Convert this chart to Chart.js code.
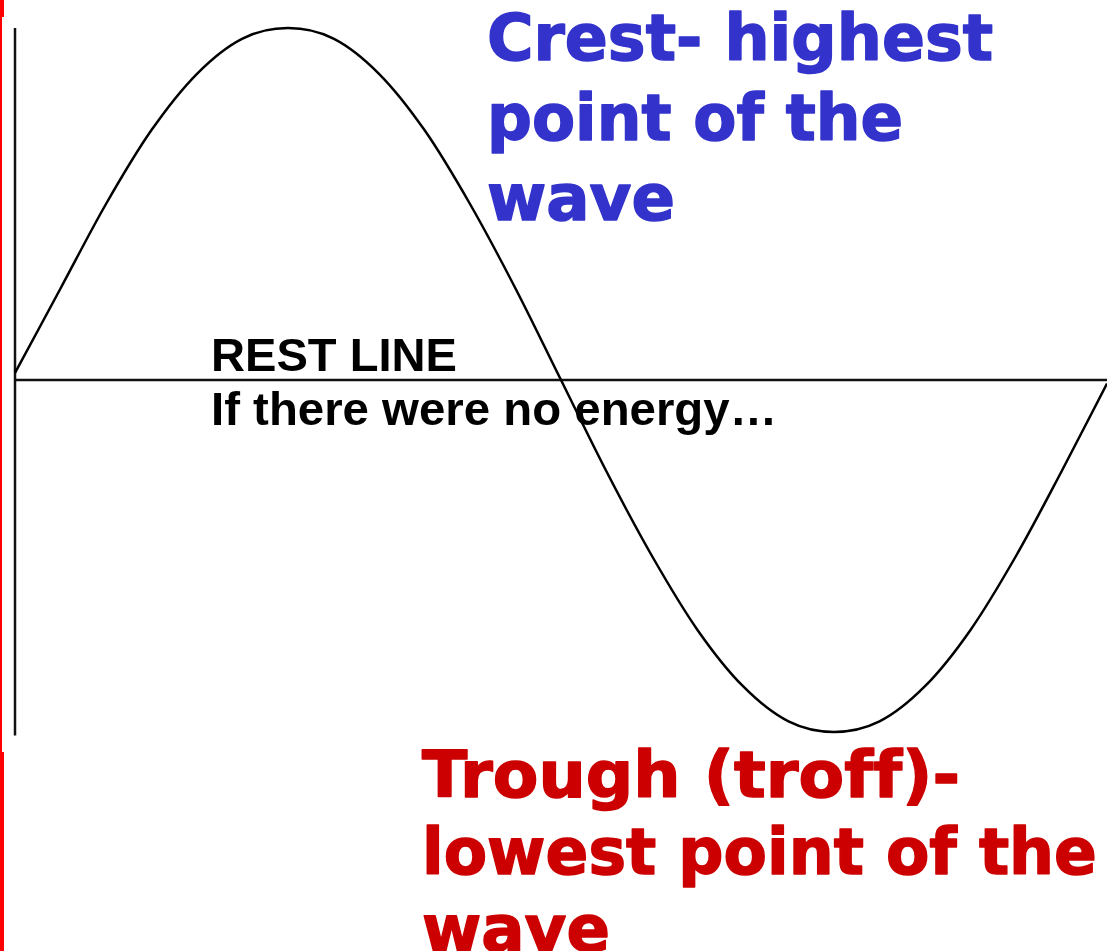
<!DOCTYPE html>
<html>
<head>
<meta charset="utf-8">
<script src="https://cdn.jsdelivr.net/npm/chart.js@4"></script>
<style>
  html, body { margin: 0; padding: 0; background: #fff; }
  canvas { display: block; }
</style>
</head>
<body>
<canvas id="wave" width="1107" height="951"></canvas>
<script>
// phase (degrees) along one full wave
const phase = [0, 15, 30, 45, 60, 75, 90, 105, 120, 135, 150, 165, 180,
               195, 210, 225, 240, 255, 270, 285, 300, 315, 330, 345, 360];
// displacement (crest = 1, trough = -1)
const displacement = [0.02, 0.26, 0.50, 0.71, 0.87, 0.97, 1.00, 0.97, 0.87, 0.71, 0.50, 0.26, 0.00,
                      -0.26, -0.50, -0.71, -0.87, -0.97, -1.00, -0.97, -0.87, -0.71, -0.50, -0.26, -0.01];
const restLine = [0, 0];
const restX = [0, 360];
const axisY = [1.0, -1.01];

const crestLines = ['Crest- highest', 'point of the', 'wave'];
const crestWidths = [506, 416, 188];
const troughLines = ['Trough (troff)-', 'lowest point of the', 'wave'];
const troughWidths = [538, 675, 188];
const restLabels = ['REST LINE', 'If there were no energy\u2026'];
const restWidths = [246, 566];

// draw one line of text stretched to the width it has on the slide
const fitText = (ctx, text, x, y, width, heavy) => {
    const w = ctx.measureText(text).width;
    ctx.save();
    ctx.translate(x, y);
    ctx.scale(width / w, 1);
    ctx.fillText(text, 0, 0);
    if (heavy) {
        ctx.lineWidth = heavy;
        ctx.lineJoin = 'round';
        ctx.strokeStyle = ctx.fillStyle;
        ctx.strokeText(text, 0, 0);
    }
    ctx.restore();
};

const labelsPlugin = {
    id: 'slideLabels',
    afterDraw(chart) {
        const ctx = chart.ctx;
        ctx.save();

        // red slide edge on the left
        ctx.fillStyle = '#ff0000';
        ctx.fillRect(0, 0, 4, 17);
        ctx.fillRect(0, 17, 2, 735);
        ctx.fillRect(0, 752, 4, 199);

        ctx.textBaseline = 'alphabetic';
        ctx.textAlign = 'left';
        ctx.letterSpacing = '0.01px';

        ctx.fillStyle = '#3333cc';
        ctx.font = 'bold 64px "DejaVu Sans"';
        crestLines.forEach((t, i) => fitText(ctx, t, 487, 60 + i * 80, crestWidths[i], 1.5));

        ctx.fillStyle = '#cc0000';
        ctx.font = 'bold 64px "DejaVu Sans"';
        troughLines.forEach((t, i) => fitText(ctx, t, 422, 797 + i * 77, troughWidths[i], 1.5));

        ctx.fillStyle = '#000';
        ctx.font = 'bold 47px "Liberation Sans"';
        restLabels.forEach((t, i) => fitText(ctx, t, 211, 371 + i * 54, restWidths[i], 0));

        ctx.restore();
    }
};

new Chart(document.getElementById('wave'), {
    type: 'scatter',
    data: {
        datasets: [
            {
                label: 'wave',
                data: phase.map((x, i) => ({ x: x, y: displacement[i] })),
                showLine: true,
                borderColor: '#000',
                borderWidth: 2.5,
                pointRadius: 0,
                cubicInterpolationMode: 'monotone',
                clip: false
            },
            {
                label: 'rest line',
                data: restX.map((x, i) => ({ x: x, y: restLine[i] })),
                showLine: true,
                borderColor: '#111',
                borderWidth: 2.5,
                pointRadius: 0,
                clip: false
            },
            {
                label: 'axis',
                data: axisY.map(y => ({ x: 0, y: y })),
                showLine: true,
                borderColor: '#111',
                borderWidth: 2.5,
                pointRadius: 0,
                clip: false
            }
        ]
    },
    options: {
        responsive: false,
        animation: false,
        layout: { padding: { left: 15, right: 0, top: 28, bottom: 219 } },
        plugins: {
            legend: { display: false },
            tooltip: { enabled: false }
        },
        scales: {
            x: { type: 'linear', min: 0, max: 360, display: false },
            y: { type: 'linear', min: -1, max: 1, display: false }
        }
    },
    plugins: [labelsPlugin]
});
</script>
</body>
</html>
